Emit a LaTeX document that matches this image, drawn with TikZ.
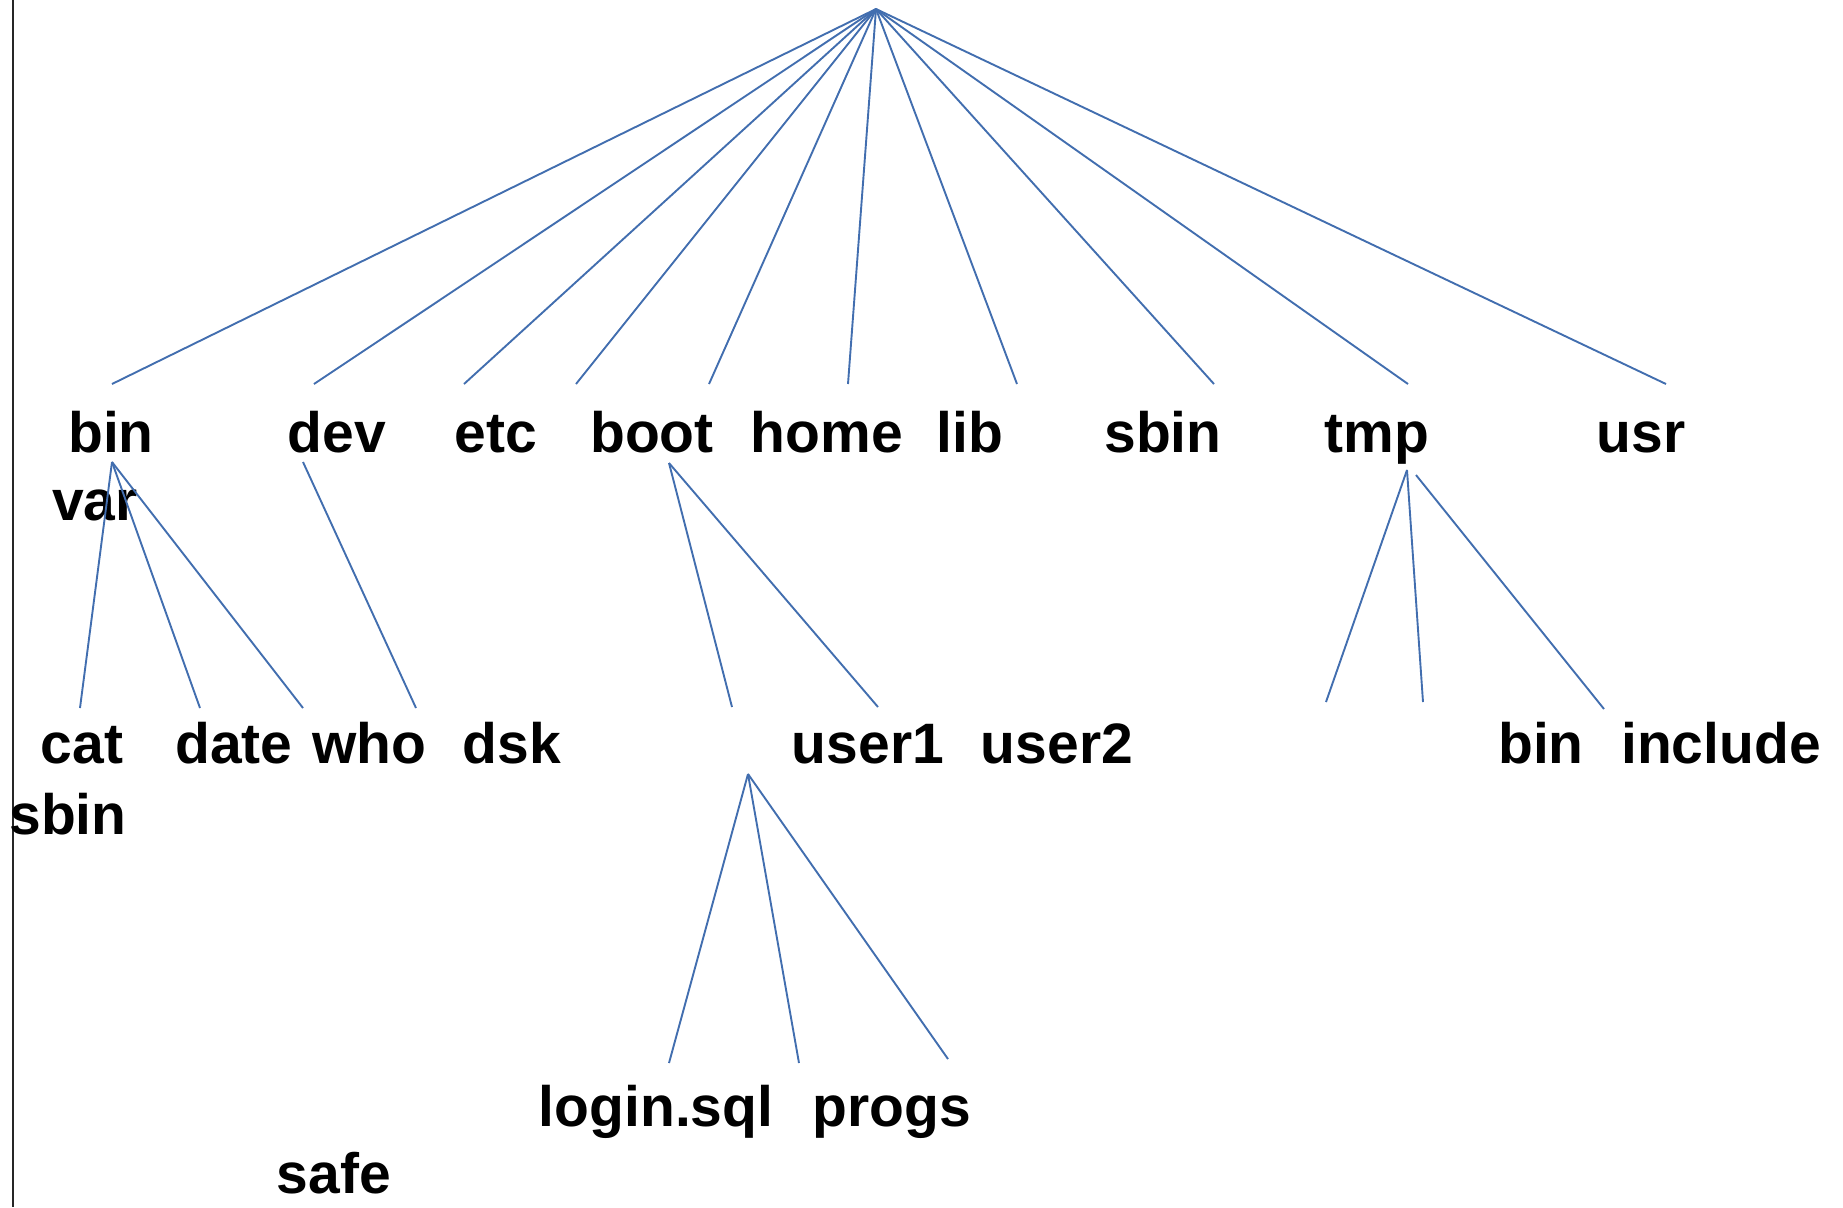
\documentclass[tikz,border=0pt]{standalone}
\usepackage{fontspec}
\setmainfont{Liberation Sans}
\usepackage{tikz}
\definecolor{linkblue}{RGB}{66,110,175}

\begin{document}
\begin{tikzpicture}[x=0.5pt, y=-0.5pt,
                    main node/.style={anchor=base,inner sep=0pt,font=\bfseries\fontsize{28.5}{34}\selectfont},
                    link/.style={draw=linkblue,line width=0.95pt}]

  \useasboundingbox (0,0) rectangle (1843,1207);
  \draw[black!85,line width=0.7pt] (13,0) -- (13,1207);

  % top row
  \node[main node] (1) at (111,452) {bin};
  \node[main node] (2) at (337,452) {dev};
  \node[main node] (3) at (496,452) {etc};
  \node[main node] (4) at (652,452) {boot};
  \node[main node] (5) at (827,452) {home};
  \node[main node] (6) at (970,452) {lib};
  \node[main node] (7) at (1163,452) {sbin};
  \node[main node] (8) at (1377,452) {tmp};
  \node[main node] (9) at (1641,452) {usr};
  \node[main node] (10) at (95,520) {var};

  % second row
  \node[main node] (11) at (82,763) {cat};
  \node[main node] (12) at (234,763) {date};
  \node[main node] (13) at (369,763) {who};
  \node[main node] (14) at (512,763) {dsk};
  \node[main node] (15) at (868,763) {user1};
  \node[main node] (16) at (1057,763) {user2};
  \node[main node] (17) at (1541,763) {bin};
  \node[main node] (18) at (1721,763) {include};
  \node[main node] (19) at (68,834) {sbin};

  % third row
  \node[main node] (20) at (656,1126) {login.sql};
  \node[main node] (21) at (892,1126) {progs};
  \node[main node] (22) at (334,1193) {safe};

  % line ends
  \coordinate (r) at (876,9);
  \coordinate (r1) at (112,384);
  \coordinate (r2) at (314,384);
  \coordinate (r3) at (464,384);
  \coordinate (r4) at (576,384);
  \coordinate (r5) at (709,384);
  \coordinate (r6) at (848,384);
  \coordinate (r7) at (1017,384);
  \coordinate (r8) at (1214,384);
  \coordinate (r9) at (1408,384);
  \coordinate (r10) at (1666,384);

  \coordinate (b) at (112,462);
  \coordinate (b1) at (80,708);
  \coordinate (b2) at (200,708);
  \coordinate (b3) at (303,708);
  \coordinate (d) at (303,462);
  \coordinate (d1) at (416,708);
  \coordinate (o) at (669,463);
  \coordinate (o1) at (732,707);
  \coordinate (o2) at (878,707);
  \coordinate (u) at (748,774);
  \coordinate (u1) at (669,1063);
  \coordinate (u2) at (799,1063);
  \coordinate (u3) at (948,1059);
  \coordinate (t) at (1407,470);
  \coordinate (t1) at (1326,702);
  \coordinate (t2) at (1423,702);
  \coordinate (tt) at (1416,475);
  \coordinate (t3) at (1604,709);

  \path[link]
    (r) edge (r1)
        edge (r2)
        edge (r3)
        edge (r4)
        edge (r5)
        edge (r6)
        edge (r7)
        edge (r8)
        edge (r9)
        edge (r10)
    (b) edge (b1)
        edge (b2)
        edge (b3)
    (d) edge (d1)
    (o) edge (o1)
        edge (o2)
    (u) edge (u1)
        edge (u2)
        edge (u3)
    (t) edge (t1)
        edge (t2)
    (tt) edge (t3)
       ;

\end{tikzpicture}
\end{document}
